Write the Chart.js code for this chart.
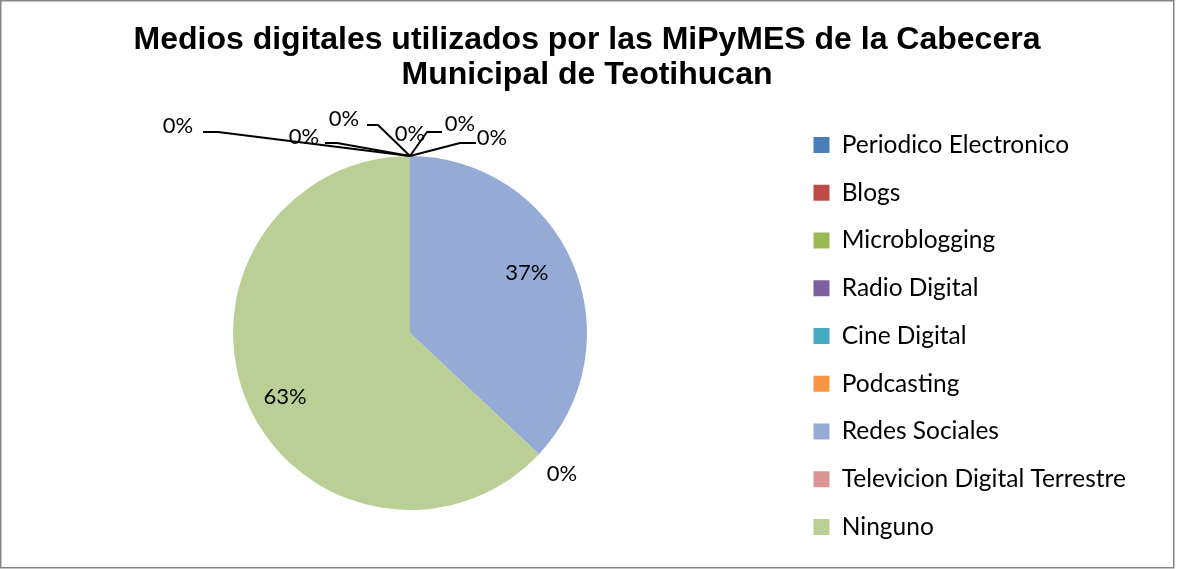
<!DOCTYPE html>
<html><head><meta charset="utf-8">
<script src="https://cdn.jsdelivr.net/npm/chart.js@4/dist/chart.umd.min.js"></script>
<style>html,body{margin:0;padding:0;background:#fff;overflow:hidden}</style>
</head><body><canvas id="c" width="1177" height="569"></canvas>
<script>
const categories = ['Periodico Electronico','Blogs','Microblogging','Radio Digital','Cine Digital','Podcasting','Redes Sociales','Televicion Digital Terrestre','Ninguno'];
const values = [0,0,0,0,0,0,37,0,63];
const titleLines = ['Medios digitales utilizados por las MiPyMES de la Cabecera','Municipal de Teotihucan'];

// styles (not data)
const sliceColors = ['#4A7EBB','#BE4B48','#98B954','#7D60A0','#46AAC5','#F69544','#95ABD5','#D99694','#B9CF96'];
// label placement: zero slices relative to slice anchor (dx,dy); leader end (ex,ey) relative to label; elbow length
// non-zero slices: small nudge (dx,dy) from the mid-angle position
const labelPlacement = [
  {dx:-232, dy:-30, ex:25,  ey:6, elbow:15},
  {dx:-106, dy:-19, ex:21,  ey:6, elbow:12},
  {dx:-66,  dy:-37, ex:23,  ey:6, elbow:11},
  {dx:0,    dy:-22},
  {dx:50,   dy:-32, ex:-18, ey:8, elbow:-15},
  {dx:82,   dy:-18, ex:-16, ey:5, elbow:-16},
  {inner:true, dx:-5, dy:-7},
  {dx:23,   dy:20},
  {inner:true, dx:-3, dy:11}
];
const LABEL_FONT = '22px Lato';
const LEGEND_WIDTH = 354;

const pieLabels = {
  id: 'pieLabels',
  afterInit(chart) {
    const lg = chart.legend;
    if (lg) {
      const fit = lg.fit;
      lg.fit = function() { fit.call(this); this.width = Math.max(this.width, LEGEND_WIDTH); };
    }
  },
  afterDatasetsDraw(chart) {
    const ctx = chart.ctx;
    const meta = chart.getDatasetMeta(0);
    const data = chart.data.datasets[0].data;
    const total = data.reduce((a,b)=>a+b,0);
    ctx.save();
    ctx.font = LABEL_FONT;
    ctx.fillStyle = '#000';
    ctx.textAlign = 'center';
    ctx.textBaseline = 'middle';
    ctx.strokeStyle = '#000';
    ctx.lineWidth = 2;
    ctx.lineJoin = 'round';
    meta.data.forEach((arc, i) => {
      const p = arc.getProps(['x','y','startAngle','endAngle','outerRadius'], true);
      const txt = Math.round(data[i] / total * 100) + '%';
      const pl = labelPlacement[i] || {inner:true, dx:0, dy:0};
      if (pl.inner) {
        const mid = (p.startAngle + p.endAngle) / 2;
        const r = p.outerRadius * 0.75;
        ctx.fillText(txt, p.x + Math.cos(mid) * r + pl.dx, p.y + Math.sin(mid) * r + pl.dy);
        return;
      }
      const ax = p.x + Math.cos(p.startAngle) * p.outerRadius;
      const ay = p.y + Math.sin(p.startAngle) * p.outerRadius;
      const lx = ax + pl.dx, ly = ay + pl.dy;
      if (pl.ex !== undefined) {
        const exx = lx + pl.ex, eyy = ly + pl.ey;
        ctx.beginPath();
        ctx.moveTo(exx, eyy);
        ctx.lineTo(exx + pl.elbow, eyy);
        ctx.lineTo(ax, ay);
        ctx.stroke();
      }
      ctx.fillText(txt, lx, ly);
    });
    ctx.restore();
  }
};

const frame = {
  id: 'frame',
  afterDraw(chart) {
    const ctx = chart.ctx;
    ctx.save();
    ctx.strokeStyle = '#868686';
    ctx.lineWidth = 1.5;
    ctx.strokeRect(0.75, 0.75, 1173, 567);
    ctx.restore();
  }
};

new Chart(document.getElementById('c'), {
  type: 'pie',
  data: {
    labels: categories,
    datasets: [{
      data: values,
      backgroundColor: sliceColors,
      borderWidth: 0,
      radius: 177
    }]
  },
  options: {
    responsive: false,
    animation: false,
    layout: { padding: { left: 29.75, right: 32.75, top: 0, bottom: 3 } },
    plugins: {
      tooltip: { enabled: false },
      title: {
        display: true,
        text: titleLines,
        color: '#000',
        font: { family: 'Liberation Sans', size: 32, weight: 'bold', lineHeight: 1.07 },
        padding: { top: 23.4, bottom: 8.1 }
      },
      legend: {
        position: 'right',
        align: 'center',
        fullSize: false,
        title: { display: true, text: '', padding: 0, font: { size: 5, lineHeight: 1.2 } },
        labels: {
          color: '#000',
          font: { family: 'Lato', size: 24.5 },
          boxWidth: 16,
          boxHeight: 16,
          padding: 23.25
        }
      }
    }
  },
  plugins: [pieLabels, frame]
});
</script>
</body></html>
